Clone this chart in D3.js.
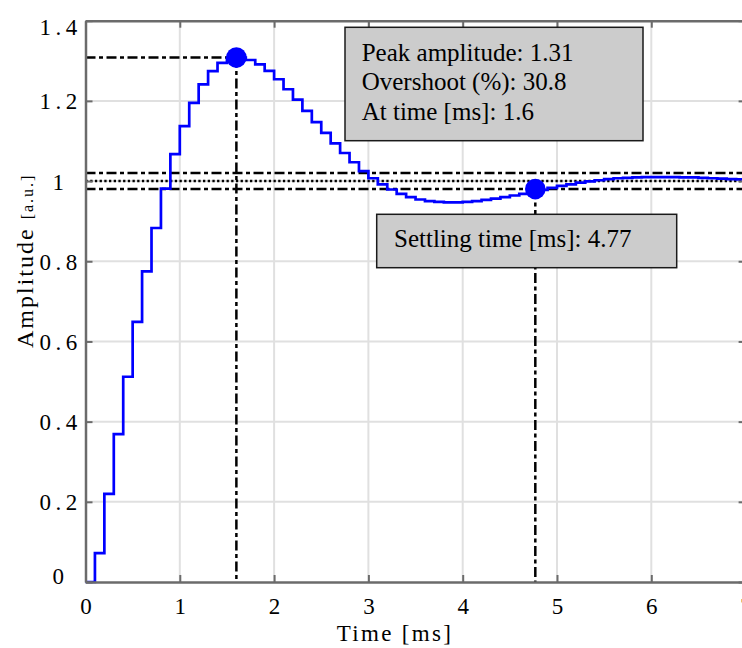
<!DOCTYPE html>
<html>
<head>
<meta charset="utf-8">
<script src="https://cdn.jsdelivr.net/npm/d3@7"></script>
<style>
  body { margin: 0; background: #fff; }
</style>
</head>
<body>
<div id="chart"></div>
<script>
// step response samples, one every 0.1 ms (held until the next sample)
var sampleTime = 0.1;
var amplitude = [
  0, 0.072, 0.220, 0.369, 0.512, 0.649, 0.775, 0.883, 0.981, 1.067,
  1.137, 1.195, 1.241, 1.274, 1.295, 1.306, 1.308, 1.302, 1.291, 1.275,
  1.254, 1.229, 1.203, 1.175, 1.147, 1.120, 1.094, 1.070, 1.047, 1.025,
  1.007, 0.992, 0.979, 0.968, 0.960, 0.954, 0.950, 0.948, 0.947, 0.947,
  0.948, 0.950, 0.953, 0.956, 0.960, 0.964, 0.968, 0.973, 0.978, 0.983,
  0.988, 0.992, 0.996, 0.999, 1.002, 1.005, 1.007, 1.008, 1.009, 1.010,
  1.010, 1.010, 1.010, 1.009, 1.009, 1.008, 1.007, 1.006, 1.005, 1.004,
  1.003
];

var xTicks = [0, 1, 2, 3, 4, 5, 6, 7];
var yTicks = [0, 0.2, 0.4, 0.6, 0.8, 1, 1.2, 1.4];

var peakPoint = [1.6, 1.308];
var settlePoint = [4.77, 0.98];
var settleBand = [1.02, 1.0, 0.98];

var peakLines = ["Peak amplitude: 1.31", "Overshoot (%): 30.8", "At time [ms]: 1.6"];
var settleLines = ["Settling time [ms]: 4.77"];

var W = 742, H = 648;
var margin = {left: 85.5, right: 742 - 745.6, top: 20.7, bottom: H - 582};
var serif = "'Liberation Serif'";

var svg = d3.select("#chart").append("svg")
    .attr("width", W)
    .attr("height", H)
    .style("font-family", serif);

var x = d3.scaleLinear().domain([0, 7]).range([margin.left, W - margin.right]);
var y = d3.scaleLinear().domain([0, 1.4]).range([H - margin.bottom, margin.top]);

var axisColor = "#6b6b6b";

// grid
var grid = svg.append("g");
grid.selectAll(".gx").data(xTicks.slice(1, -1)).enter().append("line")
    .attr("x1", d => x(d)).attr("x2", d => x(d))
    .attr("y1", y(0)).attr("y2", y(1.4))
    .attr("stroke", "#e0e0e0").attr("stroke-width", 2);
grid.selectAll(".gy").data(yTicks.slice(1, -1)).enter().append("line")
    .attr("x1", x(0)).attr("x2", x(7))
    .attr("y1", d => y(d)).attr("y2", d => y(d))
    .attr("stroke", "#e0e0e0").attr("stroke-width", 2);

// reference lines
var dashDot = "10,3.5,4,3.5";
var refs = svg.append("g").attr("stroke", "#000").attr("stroke-width", 2.5).attr("fill", "none");
settleBand.forEach(function(v, i) {
  refs.append("line")
      .attr("x1", x(0)).attr("x2", x(7))
      .attr("y1", y(v)).attr("y2", y(v))
      .attr("stroke-dasharray", i == 1 ? "2.3,2.4" : dashDot);
});
refs.append("line")
    .attr("x1", x(0)).attr("x2", x(peakPoint[0]))
    .attr("y1", y(peakPoint[1])).attr("y2", y(peakPoint[1]))
    .attr("stroke-dasharray", dashDot);
refs.append("line")
    .attr("x1", x(peakPoint[0])).attr("x2", x(peakPoint[0]))
    .attr("y1", y(peakPoint[1])).attr("y2", y(0))
    .attr("stroke-dasharray", dashDot);
refs.append("line")
    .attr("x1", x(settlePoint[0])).attr("x2", x(settlePoint[0]))
    .attr("y1", y(settlePoint[1])).attr("y2", y(0))
    .attr("stroke-dasharray", dashDot);

// response
var line = d3.line()
    .x(function(d, i) { return x(i * sampleTime); })
    .y(function(d) { return y(d); })
    .curve(d3.curveStepAfter);

svg.append("path")
    .datum(amplitude)
    .attr("d", line)
    .attr("fill", "none")
    .attr("stroke", "#0000ff")
    .attr("stroke-width", 2.7);

svg.selectAll(".marker").data([peakPoint, settlePoint]).enter().append("circle")
    .attr("cx", d => x(d[0])).attr("cy", d => y(d[1]))
    .attr("r", 10.3)
    .attr("fill", "#0000ff");

// axes frame
var gx = svg.append("g")
    .attr("transform", "translate(0," + y(0) + ")")
    .call(d3.axisBottom(x).tickValues(xTicks).tickSize(-7).tickSizeOuter(0)
      .tickFormat(d3.format("d")));
var gxTop = svg.append("g")
    .attr("transform", "translate(0," + y(1.4) + ")")
    .call(d3.axisTop(x).tickValues(xTicks).tickSize(-7).tickFormat("").tickSizeOuter(0));
var gy = svg.append("g")
    .attr("transform", "translate(" + x(0) + ",0)")
    .call(d3.axisLeft(y).tickValues(yTicks).tickSize(-7).tickSizeOuter(0)
      .tickFormat(d3.format("~g")));
var gyRight = svg.append("g")
    .attr("transform", "translate(" + x(7) + ",0)")
    .call(d3.axisRight(y).tickValues(yTicks).tickSize(-7).tickFormat("").tickSizeOuter(0));

[gx, gxTop, gy, gyRight].forEach(function(g) {
  g.attr("font-family", null);
  g.select(".domain").attr("stroke", axisColor).attr("stroke-width", 2.5);
  g.selectAll(".tick line").attr("stroke", axisColor).attr("stroke-width", 2);
});

gx.selectAll(".tick text")
    .attr("font-size", 23)
    .style("font-family", serif)
    .attr("dy", "0.71em")
    .attr("y", 16);

gy.selectAll(".tick text")
    .attr("font-size", 23)
    .style("font-family", serif)
    .attr("letter-spacing", 4.5)
    .attr("text-anchor", "middle")
    .attr("x", -25)
    .attr("dy", "0.35em")
    .attr("transform", function(d) {
      var shift = Math.max(y(1.4) + 6, Math.min(y(0) - 7, y(d))) - y(d);
      return "translate(0," + shift + ")";
    });

// axis labels
svg.append("text")
    .attr("x", 395).attr("y", 641)
    .attr("text-anchor", "middle")
    .attr("font-size", 23)
    .attr("letter-spacing", 2.3)
    .style("font-family", serif)
    .text("Time [ms]");

var yl = svg.append("text")
    .attr("transform", "translate(33,348) rotate(-90)")
    .attr("font-size", 24)
    .attr("letter-spacing", 2)
    .style("font-family", serif);
yl.append("tspan").text("Amplitude ");
yl.append("tspan").attr("font-size", 16).text("[a.u.]");

// annotation boxes
function box(x0, y0, w, h, lines, tx, ty, lh) {
  var g = svg.append("g");
  g.append("rect")
      .attr("x", x0).attr("y", y0).attr("width", w).attr("height", h)
      .attr("fill", "#cccccc").attr("stroke", "#1a1a1a").attr("stroke-width", 1.5);
  g.selectAll("text").data(lines).enter().append("text")
      .attr("x", tx).attr("y", (d, i) => ty + i * lh)
      .attr("font-size", 25)
      .style("font-family", serif)
      .text(d => d);
}
box(345, 27.3, 298, 113.4, peakLines, 361.7, 60.7, 29.7);
box(376.7, 214.3, 300, 53.4, settleLines, 394, 247.3, 0);
</script>
</body>
</html>
